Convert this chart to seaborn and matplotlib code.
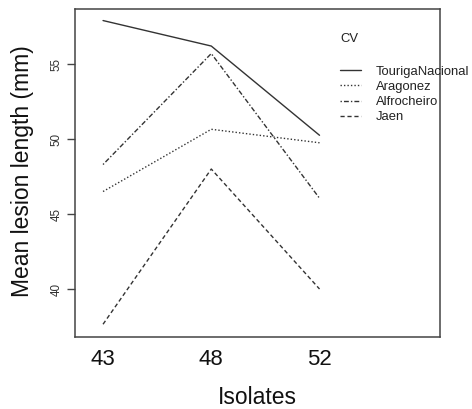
import matplotlib
matplotlib.use("Agg")
import matplotlib.pyplot as plt
import seaborn as sns
import pandas as pd

isolates = ["43", "48", "52"]
cultivars = ["TourigaNacional", "Aragonez", "Alfrocheiro", "Jaen"]
touriga = [57.9, 56.2, 50.25]
aragonez = [46.5, 50.65, 49.75]
alfrocheiro = [48.3, 55.7, 46.05]
jaen = [37.65, 48.0, 40.0]

series = dict(zip(cultivars, [touriga, aragonez, alfrocheiro, jaen]))
rows = []
for cv in cultivars:
    for iso, v in zip(isolates, series[cv]):
        rows.append({"Isolates": iso, "CV": cv, "value": v})
df = pd.DataFrame(rows)

sns.set_style("white")
plt.rcParams["font.family"] = ["Liberation Sans", "DejaVu Sans"]

fig = plt.figure(figsize=(4.72, 4.09), dpi=100)
ax = fig.add_axes([75 / 472, 1 - 337 / 409, 365 / 472, 328 / 409])

dashes = {
    "TourigaNacional": "",
    "Aragonez": (1, 1.5),
    "Alfrocheiro": (1, 1.5, 3.5, 1.5),
    "Jaen": (3, 2),
}
sns.lineplot(data=df, x="Isolates", y="value", style="CV", style_order=cultivars,
             dashes=dashes, color="#333333", linewidth=1.0, ax=ax, sort=False)

old = ax.get_legend()
handles = old.legend_handles
labels = [t.get_text() for t in old.get_texts()]
old.remove()
for h in handles:
    h.set_color("#333333")
    h.set_linewidth(1.0)

ax.set_xlim(-0.259, 3.113)
ax.set_ylim(36.8, 58.67)
ax.set_yticks([40, 45, 50, 55])

for s in ax.spines.values():
    s.set_color("#444444")
    s.set_linewidth(1.1)
    s.set_visible(True)

ax.tick_params(axis="x", length=0, pad=8.5, labelsize=16, colors="#111111")
ax.tick_params(axis="y", left=True, length=5.8, width=1.0, color="#444444",
               pad=3.0, labelsize=8.4, labelcolor="#333333")
for lab in ax.get_yticklabels():
    lab.set_rotation(90)
    lab.set_va("center")

ax.set_xlabel("Isolates", fontsize=16.5, color="#111111", va="center")
ax.xaxis.set_label_coords(0.5, -0.183)
ax.set_ylabel("Mean lesion length (mm)", fontsize=16.5, color="#111111", va="center")
ax.yaxis.set_label_coords(-0.145, 0.505)

leg = ax.legend(handles, labels, title="CV\n", loc="upper left",
                bbox_to_anchor=(340 / 472, 1 - 33 / 409), bbox_transform=fig.transFigure,
                frameon=False, fontsize=9.4, title_fontsize=9.4,
                handlelength=1.6, handletextpad=1.15, labelspacing=0.24,
                borderpad=0, borderaxespad=0, alignment="left")
leg.get_title().set_linespacing(1.6)
for t in leg.get_texts():
    t.set_color("#222222")
leg.get_title().set_color("#222222")

fig.savefig("out.png", dpi=100)
